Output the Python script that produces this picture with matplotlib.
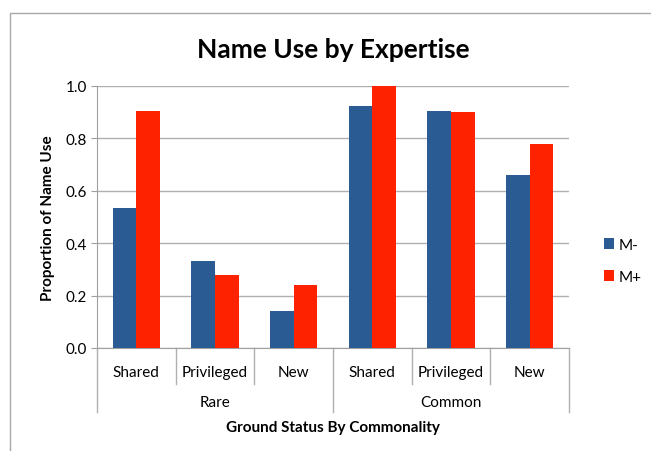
import numpy as np
import matplotlib.pyplot as plt
from matplotlib.patches import Rectangle
from matplotlib.lines import Line2D

plt.rcParams['font.family'] = ['Lato', 'DejaVu Sans']

groups = ['Rare', 'Common']
statuses = ['Shared', 'Privileged', 'New']
m_minus = [0.534, 0.331, 0.143, 0.925, 0.906, 0.660]
m_plus = [0.906, 0.280, 0.241, 1.0, 0.902, 0.780]
series_names = ['M-', 'M+']
colors = ['#2A5C93', '#FF2200']

fig = plt.figure(figsize=(6.51, 4.52), dpi=100)
# outer chart frame
fig.patches.append(Rectangle((10 / 651, -0.05), 1.0, 1 - 14 / 452 + 0.05,
                             transform=fig.transFigure, fill=False,
                             edgecolor='#A8A8A8', linewidth=1.0))

ax = fig.add_axes([97 / 651, 1 - 349 / 452, 472 / 651, 262 / 452])
n = len(m_minus)
x = np.arange(n)
w = 0.3
ax.bar(x - w / 2, m_minus, w, color=colors[0], label=series_names[0], zorder=3)
ax.bar(x + w / 2, m_plus, w, color=colors[1], label=series_names[1], zorder=3)

ax.set_xlim(-0.5, n - 0.5)
ax.set_ylim(0, 1.0)
ax.set_yticks(np.arange(0, 1.01, 0.2))
ax.set_yticklabels([f'{v:.1f}' for v in np.arange(0, 1.01, 0.2)], fontsize=11)
ax.yaxis.grid(True, color='#B0B0B0', linewidth=1.0, zorder=0)
ax.tick_params(axis='y', length=4, color='#A0A0A0', pad=3)
ax.set_xticks([])
for s in ['top', 'right']:
    ax.spines[s].set_visible(False)
for s in ['left', 'bottom']:
    ax.spines[s].set_color('#A0A0A0')

ax.set_ylabel('Proportion of Name Use', fontsize=11, fontweight='bold', labelpad=8)

# hierarchical category axis
trans = ax.get_xaxis_transform()
for i in range(n):
    ax.text(i, -0.09, statuses[i % 3], transform=trans, ha='center', va='center',
            fontsize=11)
for i in range(n + 1):
    outer = i % 3 == 0
    depth = -0.245 if outer else -0.137
    ax.add_line(Line2D([i - 0.5, i - 0.5], [0, depth], transform=trans,
                       color='#B0B0B0', linewidth=1.0, clip_on=False))
for g, name in enumerate(groups):
    ax.text(g * 3 + 1, -0.205, name, transform=trans, ha='center', va='center',
            fontsize=11)
ax.text(0.5, -0.30, 'Ground Status By Commonality', transform=ax.transAxes,
        ha='center', va='center', fontsize=11, fontweight='bold')

fig.text(333 / 651, 1 - 50 / 452, 'Name Use by Expertise', ha='center', va='center',
         fontsize=19, fontweight='bold')

fig.legend(loc='center left', bbox_to_anchor=(590 / 651, 1 - 262 / 452), frameon=False,
           fontsize=11, handlelength=0.7, handleheight=0.7, labelspacing=1.2,
           handletextpad=0.3)

fig.savefig('out.png', dpi=100)
